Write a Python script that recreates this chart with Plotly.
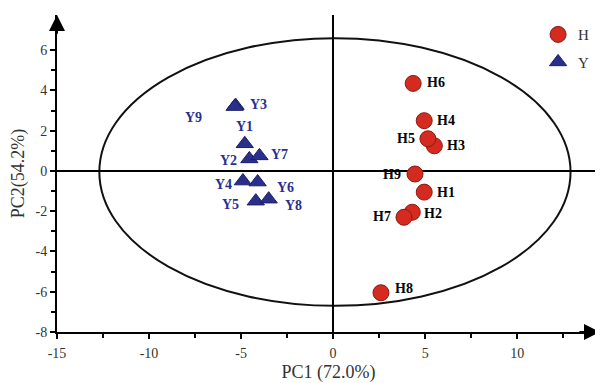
import plotly.graph_objects as go

# ---- data ----
h_names = ["H1", "H2", "H3", "H4", "H5", "H6", "H7", "H8", "H9"]
h_pc1 = [4.95, 4.3, 5.5, 4.95, 5.15, 4.35, 3.85, 2.6, 4.45]
h_pc2 = [-1.05, -2.05, 1.25, 2.5, 1.6, 4.35, -2.3, -6.05, -0.15]

y_names = ["Y1", "Y2", "Y3", "Y4", "Y5", "Y6", "Y7", "Y8", "Y9"]
y_pc1 = [-4.8, -4.55, -5.3, -4.9, -4.2, -4.1, -4.0, -3.5, -5.35]
y_pc2 = [1.35, 0.6, 3.25, -0.5, -1.5, -0.55, 0.75, -1.4, 3.2]

x_ticks = [-15, -10, -5, 0, 5, 10]
x_labels = ["-15", "-10", "-5", "0", "5", "10"]
y_ticks = [-8, -6, -4, -2, 0, 2, 4, 6]
y_labels = ["-8", "-6", "-4", "-2", "0", "2", "4", "6"]

# label offsets (pixels)
h_off = {"H1": (22, 0), "H2": (21, -1), "H3": (22, 0), "H4": (22, 0), "H5": (-22, 0),
         "H6": (23, 1), "H7": (-22, 1), "H8": (23, 4), "H9": (-23, 0)}
y_off = {"Y1": (0, 17), "Y2": (-21, -2), "Y3": (23, 1), "Y4": (-19, -3), "Y5": (-25, -3),
         "Y6": (28, -5), "Y7": (20, 1), "Y8": (25, -6), "Y9": (-41, -11)}

FONT = "Liberation Serif"
RED = "#d42a1f"
BLUE = "#2b2f8c"

fig = go.Figure()
fig.add_trace(go.Scatter(
    x=h_pc1, y=h_pc2, mode="markers", name="H",
    marker=dict(symbol="circle", size=16, color=RED, line=dict(color="#8a1a12", width=1)),
    legendgroup="H"))
fig.add_trace(go.Scatter(
    x=y_pc1, y=y_pc2, mode="markers", name="Y",
    marker=dict(symbol="triangle-up", size=15, color=BLUE, line=dict(color="#1c1f66", width=1)),
    legendgroup="Y"))

for n, x, y in zip(h_names, h_pc1, h_pc2):
    dx, dy = h_off[n]
    fig.add_annotation(x=x, y=y, text=n, showarrow=False, xshift=dx, yshift=dy,
                       font=dict(family=FONT, size=14, color="black", weight="bold"))
for n, x, y in zip(y_names, y_pc1, y_pc2):
    dx, dy = y_off[n]
    fig.add_annotation(x=x, y=y, text=n, showarrow=False, xshift=dx, yshift=dy,
                       font=dict(family=FONT, size=14, color=BLUE, weight="bold"))

# confidence ellipse
fig.add_shape(type="circle", xref="x", yref="y", x0=-12.7, x1=12.9, y0=-6.7, y1=6.6,
              line=dict(color="#111", width=2), layer="below")

XMAX, YMAX = 14.5, 7.75
# axis arrows
fig.add_annotation(x=XMAX, y=-8, ax=XMAX - 1.2, ay=-8, axref="x", ayref="y", xref="x", yref="y",
                   showarrow=True, arrowhead=2, arrowsize=1.6, arrowwidth=2, arrowcolor="black", text="")
fig.add_annotation(x=-15, y=YMAX, ax=-15, ay=YMAX - 1.0, axref="x", ayref="y", xref="x", yref="y",
                   showarrow=True, arrowhead=2, arrowsize=1.6, arrowwidth=2, arrowcolor="black", text="")

fig.update_xaxes(range=[-15, XMAX], tickvals=x_ticks, ticktext=x_labels, showgrid=False, zeroline=True,
                 zerolinecolor="black", zerolinewidth=1.5, showline=True, linecolor="black",
                 linewidth=2, ticks="outside", ticklen=5, tickwidth=1.5, tickcolor="black",
                 minor=dict(dtick=2.5, tick0=0, ticks="outside", ticklen=4, tickwidth=1.5, tickcolor="black"),
                 tickfont=dict(family=FONT, size=14, color="#333"), automargin=False,
                 ticklabelstandoff=2,
                 title=dict(text="PC1 (72.0%)", font=dict(family=FONT, size=18, color="#333"), standoff=6))
fig.update_yaxes(range=[-8, YMAX], tickvals=y_ticks, ticktext=y_labels, showgrid=False, zeroline=True,
                 zerolinecolor="black", zerolinewidth=1.5, showline=True, linecolor="black",
                 linewidth=2, ticks="outside", ticklen=5, tickwidth=1.5, tickcolor="black",
                 minor=dict(dtick=1, tick0=0, ticks="outside", ticklen=4, tickwidth=1.5, tickcolor="black"),
                 tickfont=dict(family=FONT, size=14, color="#333"), automargin=False,
                 title=dict(text="PC2(54.2%)", font=dict(family=FONT, size=18, color="#333"), standoff=10))

fig.update_layout(
    width=603, height=383, margin=dict(l=49, r=11, t=7, b=59),
    plot_bgcolor="white", paper_bgcolor="white",
    showlegend=True,
    legend=dict(x=0.886, y=0.99, xanchor="left", yanchor="top", bgcolor="rgba(0,0,0,0)",
                font=dict(family=FONT, size=15, color="#333"), tracegroupgap=5, itemwidth=30),
)

fig.write_html("out.html")
